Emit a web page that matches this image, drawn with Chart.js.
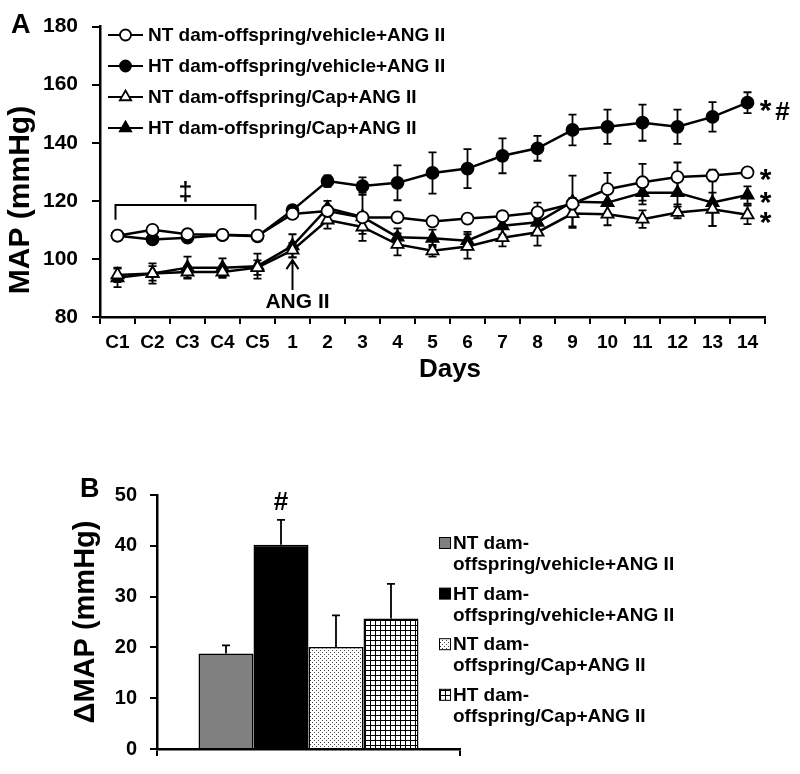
<!DOCTYPE html>
<html>
<head>
<meta charset="utf-8">
<script src="https://cdn.jsdelivr.net/npm/chart.js@4.4.0/dist/chart.umd.min.js"></script>
<style>
  body { margin: 0; background: #fff; }
  #quadro { position: relative; width: 800px; height: 774px; }
  canvas { position: absolute; left: 0; }
  #graficoA { top: 0; }
  #graficoB { top: 470px; }
</style>
</head>
<body>
<div id="quadro">
  <canvas id="graficoA" width="800" height="400"></canvas>
  <canvas id="graficoB" width="800" height="304"></canvas>
</div>
<script>
const FONTE = '"Liberation Sans", Arial, Helvetica, sans-serif';

// Painel A: dias do protocolo
const dias = ['C1', 'C2', 'C3', 'C4', 'C5', '1', '2', '3', '4', '5', '6', '7', '8', '9', '10', '11', '12', '13', '14'];

const nomesSeries = [
    'NT dam-offspring/vehicle+ANG II',
    'HT dam-offspring/vehicle+ANG II',
    'NT dam-offspring/Cap+ANG II',
    'HT dam-offspring/Cap+ANG II'
];

// PAM (mmHg) e erro padrão de cada grupo
const ntVeiculo = [108, 110, 108.5, 108.3, 108, 115.5, 116.5, 114.3, 114.3, 112.9, 113.9, 114.7, 116, 119, 124, 126.4, 128.2, 128.7, 129.8];
const ntVeiculoErro = [1, 1, 1, 1, 1, 1.5, 1.5, 1.5, 1.5, 1.5, 1.5, 1.5, 3.4, 2, 5.6, 6.3, 5, 2, 1.5];
const htVeiculo = [108, 106.7, 107.3, 108.2, 107.8, 116.8, 126.8, 125.1, 126.2, 129.6, 131.1, 135.5, 138.1, 144.4, 145.5, 146.9, 145.5, 148.9, 153.8];
const htVeiculoErro = [1, 1, 1, 1, 1, 1.5, 2, 3, 6, 7.1, 6.7, 6, 4.3, 5.3, 5.9, 6.2, 5.9, 5.1, 3.6];
const ntCap = [94.5, 95, 95.5, 95.5, 97, 103, 113.4, 111, 105, 102.8, 104.3, 107.3, 109.2, 115.6, 115.4, 113.7, 116, 117.1, 115.2];
const ntCapErro = [2.5, 2.5, 2, 2, 2.5, 2.5, 3, 2.4, 3.8, 2, 4.2, 3, 4.6, 4.4, 3.8, 3, 2, 5.7, 3.2];
const htCap = [93.5, 95, 97, 97, 97.5, 104.5, 117.5, 114.5, 107.5, 107.1, 106.3, 111.4, 112.6, 119.7, 119.4, 122.8, 122.8, 119.4, 122];
const htCapErro = [3.2, 3.5, 3.8, 3.2, 4.3, 4, 2.5, 8.3, 3, 3, 3, 3, 3, 9, 4, 4, 4, 8, 3];

// Painel B: variação da PAM
const legendasB = [
    ['NT dam-', 'offspring/vehicle+ANG II'],
    ['HT dam-', 'offspring/vehicle+ANG II'],
    ['NT dam-', 'offspring/Cap+ANG II'],
    ['HT dam-', 'offspring/Cap+ANG II']
];
const deltaPAM = [18.8, 40.2, 20.1, 25.7];
const deltaPAMErro = [1.6, 4.9, 6.2, 6.8];

// Desenha uma barra de erro vertical (com ou sem a aba de baixo)
function desenharErro(ctx, x, yAlto, yBaixo, aba, abaBaixo) {
    ctx.beginPath();
    ctx.moveTo(x, yAlto);
    ctx.lineTo(x, yBaixo);
    ctx.moveTo(x - aba, yAlto);
    ctx.lineTo(x + aba, yAlto);
    if (abaBaixo) {
        ctx.moveTo(x - aba, yBaixo);
        ctx.lineTo(x + aba, yBaixo);
    }
    ctx.stroke();
}

function texto(ctx, t, x, y, tamanho, alinhamento, base) {
    ctx.font = 'bold ' + tamanho + 'px ' + FONTE;
    ctx.textAlign = alinhamento || 'left';
    ctx.textBaseline = base || 'alphabetic';
    ctx.fillText(t, x, y);
}

const estilosA = [
    { data: ntVeiculo, erro: ntVeiculoErro, pointStyle: 'circle', pointBackgroundColor: '#fff', pointRadius: 6 },
    { data: htVeiculo, erro: htVeiculoErro, pointStyle: 'circle', pointBackgroundColor: '#000', pointRadius: 6 },
    { data: ntCap, erro: ntCapErro, pointStyle: 'triangle', pointBackgroundColor: '#fff', pointRadius: 7 },
    { data: htCap, erro: htCapErro, pointStyle: 'triangle', pointBackgroundColor: '#000', pointRadius: 7 }
];

const extrasA = {
    id: 'extrasA',
    beforeDatasetsDraw(chart) {
        const ctx = chart.ctx;
        const ys = chart.scales.y;
        ctx.save();
        ctx.strokeStyle = '#000';
        ctx.lineWidth = 1.8;
        chart.data.datasets.forEach((ds, i) => {
            const meta = chart.getDatasetMeta(i);
            ds.erro.forEach((e, j) => {
                const v = ds.data[j];
                desenharErro(ctx, meta.data[j].x, ys.getPixelForValue(v + e), ys.getPixelForValue(v - e), 4, true);
            });
        });
        ctx.restore();
    },
    afterDraw(chart) {
        const ctx = chart.ctx;
        const xs = chart.scales.x;
        const ys = chart.scales.y;
        ctx.save();
        ctx.fillStyle = '#000';
        ctx.strokeStyle = '#000';

        texto(ctx, 'A', 11, 33, 27);

        // título do eixo Y
        ctx.save();
        ctx.translate(21, 200);
        ctx.rotate(-Math.PI / 2);
        texto(ctx, 'MAP (mmHg)', 0, 0, 30, 'center', 'middle');
        ctx.restore();

        texto(ctx, 'Days', 450, 377, 26, 'center');

        // legenda
        chart.data.datasets.forEach((ds, i) => {
            const yy = 35 + 31 * i;
            ctx.lineWidth = 2;
            ctx.beginPath();
            ctx.moveTo(108, yy);
            ctx.lineTo(143, yy);
            ctx.stroke();
            ctx.fillStyle = ds.pointBackgroundColor;
            ctx.lineWidth = 1.8;
            Chart.helpers.drawPoint(ctx, { pointStyle: ds.pointStyle, rotation: 0, radius: ds.pointRadius - 0.5, borderWidth: 1.8 }, 125.5, yy);
            ctx.fillStyle = '#000';
            texto(ctx, ds.label, 148, yy + 1, 19, 'left', 'middle');
        });

        // chave ‡ sobre o período controle
        const x1 = xs.getPixelForValue(0) - 2;
        const x2 = xs.getPixelForValue(4) - 2;
        const yTopo = ys.getPixelForValue(118.6);
        const yPe = ys.getPixelForValue(113.5);
        ctx.lineWidth = 2;
        ctx.beginPath();
        ctx.moveTo(x1, yPe);
        ctx.lineTo(x1, yTopo);
        ctx.lineTo(x2, yTopo);
        ctx.lineTo(x2, yPe);
        ctx.stroke();
        texto(ctx, '\u2021', (x1 + x2) / 2, yTopo - 5, 25, 'center');

        // seta ANG II no dia 1
        const xa = xs.getPixelForValue(5);
        const yPonta = ys.getPixelForValue(99.6);
        const yBase = ys.getPixelForValue(89.3);
        ctx.beginPath();
        ctx.moveTo(xa, yBase);
        ctx.lineTo(xa, yPonta);
        ctx.moveTo(xa - 6, yPonta + 9);
        ctx.lineTo(xa, yPonta);
        ctx.lineTo(xa + 6, yPonta + 9);
        ctx.stroke();
        texto(ctx, 'ANG II', xa + 5, yBase + 18, 21, 'center');

        // asteriscos de significância
        const ult = dias.length - 1;
        chart.data.datasets.forEach((ds, i) => {
            const p = chart.getDatasetMeta(i).data[ult];
            texto(ctx, '*', p.x + 18, p.y + 17, 30, 'center');
            if (i === 1) texto(ctx, '#', p.x + 35, p.y + 17, 26, 'center');
        });
        ctx.restore();
    }
};

new Chart(document.getElementById('graficoA'), {
    type: 'line',
    data: {
        labels: dias,
        datasets: estilosA.map((s, i) => ({
            ...s,
            label: nomesSeries[i],
            borderColor: '#000',
            borderWidth: 2.5,
            pointBorderColor: '#000',
            pointBorderWidth: 1.8,
            tension: 0,
            fill: false
        }))
    },
    options: {
        responsive: false,
        animation: false,
        layout: { padding: { top: 24, right: 35, left: 0, bottom: 0 } },
        plugins: { legend: { display: false }, tooltip: { enabled: false } },
        scales: {
            x: {
                offset: true,
                grid: { offset: true, drawOnChartArea: false, color: '#000', lineWidth: 2, tickLength: 7 },
                border: { color: '#000', width: 2.5 },
                ticks: { color: '#000', font: { family: FONTE, size: 19, weight: 'bold' }, padding: 7, maxRotation: 0, autoSkip: false },
                afterFit: s => { s.height = 83; }
            },
            y: {
                min: 80,
                max: 180,
                ticks: { stepSize: 20, color: '#000', font: { family: FONTE, size: 21, weight: 'bold' }, padding: 14 },
                grid: { drawOnChartArea: false, color: '#000', lineWidth: 2, tickLength: 8 },
                border: { color: '#000', width: 2.5 },
                afterFit: s => { s.width = 100; }
            }
        }
    },
    plugins: [extrasA]
});

// Padrões de preenchimento das barras
const ctxB = document.getElementById('graficoB').getContext('2d');
function criarPadrao(tipo) {
    const c = document.createElement('canvas');
    const g = c.getContext('2d');
    if (tipo === 'pontos') {
        c.width = 4; c.height = 4;
        g.fillStyle = '#fff'; g.fillRect(0, 0, 4, 4);
        g.fillStyle = '#444';
        g.fillRect(0, 0, 1, 1);
        g.fillRect(2, 2, 1, 1);
    } else {
        c.width = 5; c.height = 5;
        g.fillStyle = '#fff'; g.fillRect(0, 0, 5, 5);
        g.fillStyle = '#000';
        g.fillRect(0, 0, 5, 1);
        g.fillRect(0, 0, 1, 5);
    }
    return ctxB.createPattern(c, 'repeat');
}
const preenchimentosB = ['#808080', '#000000', criarPadrao('pontos'), criarPadrao('grade')];

const extrasB = {
    id: 'extrasB',
    afterDatasetsDraw(chart) {
        const ctx = chart.ctx;
        const ys = chart.scales.y;
        ctx.save();
        ctx.strokeStyle = '#000';
        ctx.lineWidth = 1.8;
        chart.data.datasets.forEach((ds, i) => {
            const barra = chart.getDatasetMeta(i).data[0];
            const v = ds.data[0];
            desenharErro(ctx, barra.x, ys.getPixelForValue(v + deltaPAMErro[i]), ys.getPixelForValue(v), 4, false);
        });
        ctx.restore();
    },
    afterDraw(chart) {
        const ctx = chart.ctx;
        const ys = chart.scales.y;
        ctx.save();
        ctx.fillStyle = '#000';
        ctx.strokeStyle = '#000';

        texto(ctx, 'B', 80, 27, 27);

        ctx.save();
        ctx.translate(86, (chart.chartArea.top + chart.chartArea.bottom) / 2);
        ctx.rotate(-Math.PI / 2);
        texto(ctx, '\u0394MAP (mmHg)', 0, 0, 29, 'center', 'middle');
        ctx.restore();

        // # sobre a barra HT/veículo
        const barraHT = chart.getDatasetMeta(1).data[0];
        texto(ctx, '#', barraHT.x, ys.getPixelForValue(deltaPAM[1] + deltaPAMErro[1]) - 10, 26, 'center');

        // legenda em duas linhas
        chart.data.datasets.forEach((ds, i) => {
            const yy = 73 + 50.6 * i;
            ctx.fillStyle = ds.backgroundColor;
            ctx.fillRect(439.5, yy - 5.5, 11, 11);
            ctx.lineWidth = 1;
            ctx.strokeRect(439.5, yy - 5.5, 11, 11);
            ctx.fillStyle = '#000';
            texto(ctx, legendasB[i][0], 453, yy + 1, 19, 'left', 'middle');
            texto(ctx, legendasB[i][1], 453, yy + 22, 19, 'left', 'middle');
        });
        ctx.restore();
    }
};

new Chart(ctxB, {
    type: 'bar',
    data: {
        labels: [''],
        datasets: deltaPAM.map((v, i) => ({
            label: legendasB[i].join(''),
            data: [v],
            backgroundColor: preenchimentosB[i],
            borderColor: '#000',
            borderWidth: 1.5
        }))
    },
    options: {
        responsive: false,
        animation: false,
        layout: { padding: { top: 25, right: 340, left: 0, bottom: 0 } },
        plugins: { legend: { display: false }, tooltip: { enabled: false } },
        datasets: { bar: { categoryPercentage: 0.726, barPercentage: 1 } },
        scales: {
            x: {
                grid: { offset: true, drawOnChartArea: false, color: '#000', lineWidth: 2, tickLength: 7 },
                border: { color: '#000', width: 2.5 },
                ticks: { display: false },
                afterFit: s => { s.height = 15; }
            },
            y: {
                min: 0,
                max: 50,
                ticks: { stepSize: 10, color: '#000', font: { family: FONTE, size: 20, weight: 'bold' }, padding: 13 },
                grid: { drawOnChartArea: false, color: '#000', lineWidth: 2, tickLength: 7 },
                border: { color: '#000', width: 2.5 },
                afterFit: s => { s.width = 157; }
            }
        }
    },
    plugins: [extrasB]
});
</script>
</body>
</html>
